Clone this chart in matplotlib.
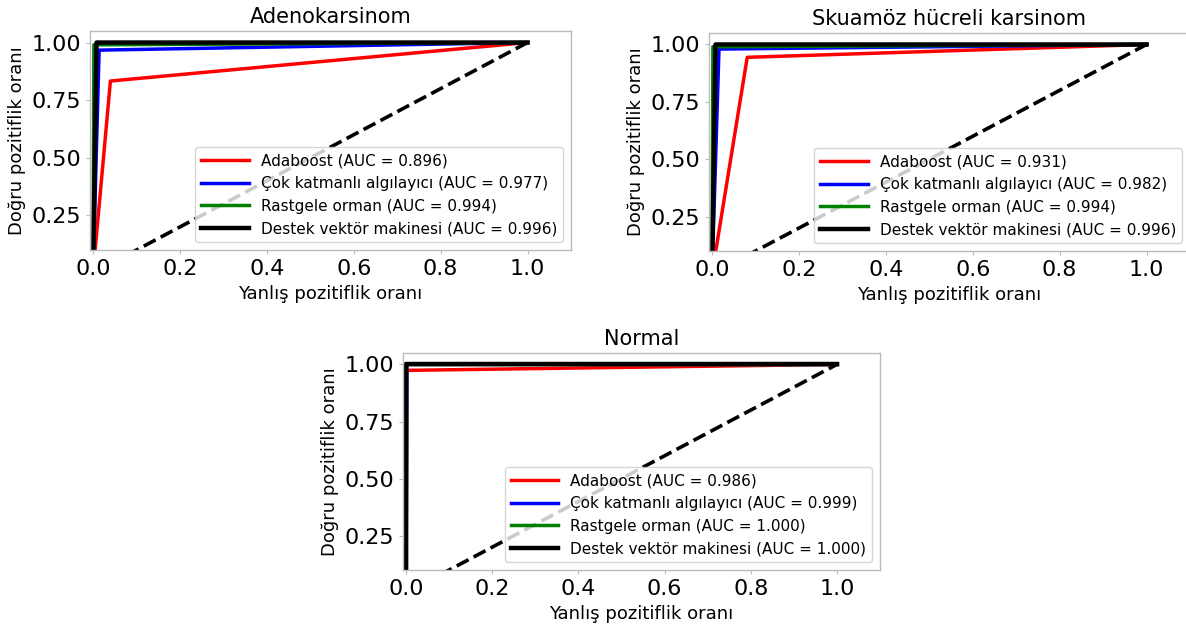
import numpy as np
import matplotlib
matplotlib.use("Agg")
import matplotlib.pyplot as plt

# ROC points: (fpr, tpr) per model per class
titles = ["Adenokarsinom", "Skuamöz hücreli karsinom", "Normal"]
models = ["Adaboost", "Çok katmanlı algılayıcı", "Rastgele orman", "Destek vektör makinesi"]
colors = ["red", "blue", "green", "black"]

adeno_fpr = [[0.0, 0.040, 1.0], [0.0, 0.014, 1.0], [0.0, 0.002, 1.0], [0.0, 0.008, 1.0]]
adeno_tpr = [[0.0, 0.833, 1.0], [0.0, 0.967, 1.0], [0.0, 0.990, 1.0], [0.0, 1.000, 1.0]]
adeno_auc = [0.896, 0.977, 0.994, 0.996]

skua_fpr = [[0.0, 0.081, 1.0], [0.0, 0.016, 1.0], [0.0, 0.002, 1.0], [0.0, 0.008, 1.0]]
skua_tpr = [[0.0, 0.944, 1.0], [0.0, 0.980, 1.0], [0.0, 0.990, 1.0], [0.0, 1.000, 1.0]]
skua_auc = [0.931, 0.982, 0.994, 0.996]

norm_fpr = [[0.0, 0.002, 1.0], [0.0, 0.002, 1.0], [0.0, 0.000, 1.0], [0.0, 0.000, 1.0]]
norm_tpr = [[0.0, 0.974, 1.0], [0.0, 1.000, 1.0], [0.0, 1.000, 1.0], [0.0, 1.000, 1.0]]
norm_auc = [0.986, 0.999, 1.000, 1.000]

panels = [
    (adeno_fpr, adeno_tpr, adeno_auc),
    (skua_fpr, skua_tpr, skua_auc),
    (norm_fpr, norm_tpr, norm_auc),
]

W, H = 1186, 624
fig = plt.figure(figsize=(W / 100, H / 100), dpi=100)

# axes boxes in pixels: left, top, right, bottom
boxes = [(90, 31, 571, 250), (709, 33, 1190, 251), (403, 353, 880, 570)]

for (l, t, r, b), title, (fprs, tprs, aucs) in zip(boxes, titles, panels):
    ax = fig.add_axes([l / W, 1 - b / H, (r - l) / W, (b - t) / H])
    for fpr, tpr, auc, name, c in zip(fprs, tprs, aucs, models, colors):
        lw = 3.2 if c == "black" else 2.5
        ax.plot(fpr, tpr, color=c, lw=lw, label=f"{name} (AUC = {auc:.3f})")
    ax.plot([0, 1], [0, 1], color="black", lw=2.6, ls="--")

    ax.set_xlim(-0.007, 1.1)
    ax.set_ylim(0.1, 1.05)
    ax.set_xticks([0.0, 0.2, 0.4, 0.6, 0.8, 1.0])
    ax.set_yticks([0.25, 0.50, 0.75, 1.00])
    ax.tick_params(labelsize=16, length=3, color="#bbbbbb", labelcolor="black")
    for s in ax.spines.values():
        s.set_color("#bbbbbb")
        s.set_linewidth(1.0)

    ax.set_title(title, fontsize=15)
    ax.set_xlabel("Yanlış pozitiflik oranı", fontsize=13)
    ax.set_ylabel("Doğru pozitiflik oranı", fontsize=13)
    ax.legend(loc="lower right", fontsize=11, handlelength=3.1, framealpha=0.8)

fig.savefig("out.png", dpi=100)
